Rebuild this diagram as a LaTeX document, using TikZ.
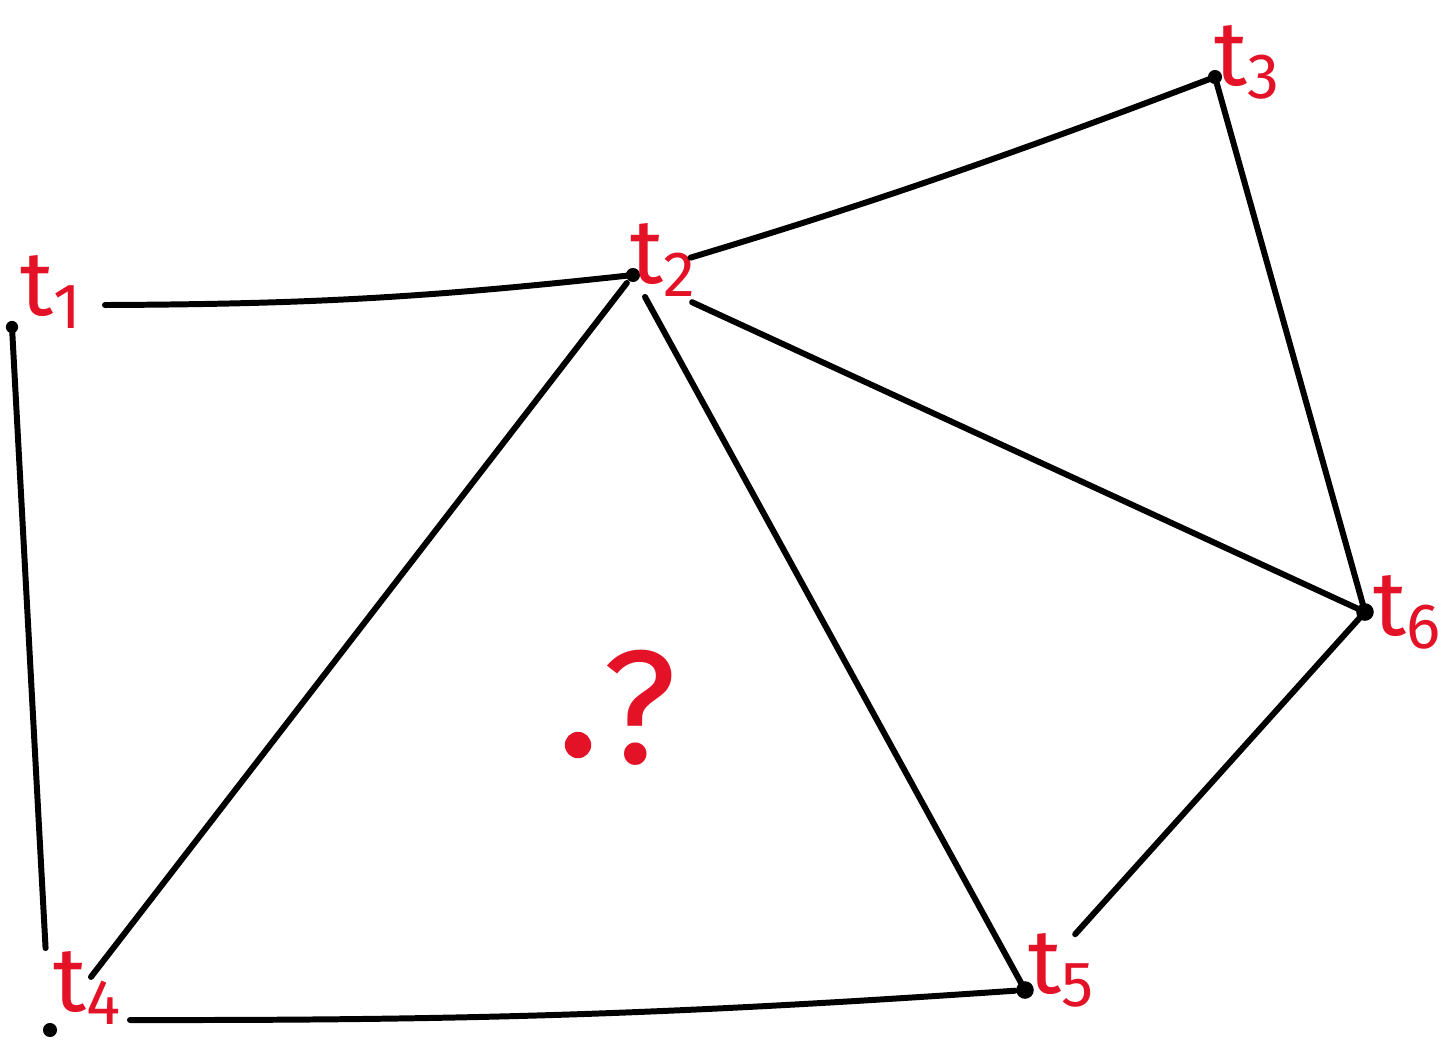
\documentclass[tikz,border=0pt]{standalone}
\usepackage{fontspec}
\setmainfont{Fira Sans}
\definecolor{inkred}{RGB}{228,18,38}
\begin{document}
\begin{tikzpicture}[x=0.01cm,y=-0.01cm,
  edge/.style={line width=1.7pt,line cap=round,black},
  vdot/.style={circle,fill=black,inner sep=0pt,minimum size=#1},
  lab/.style={text=inkred,font=\fontsize{26}{28}\selectfont,inner sep=0pt}]
\useasboundingbox (0,0) rectangle (1441,1041);
% vertices
\node[vdot=3.5pt] (t1) at (12,327) {};
\node[vdot=4pt] (t2) at (633,275) {};
\node[vdot=4pt] (t3) at (1215,77) {};
\node[vdot=4pt] (t4) at (50,1030) {};
\node[vdot=5pt] (t5) at (1025,990) {};
\node[vdot=5pt] (t6) at (1365,612) {};
% labels
\node[lab] (l1) at (52,292) {t\textsubscript{1}};
\node[lab] (l2) at (664,260) {t\textsubscript{2}};
\node[lab] (l3) at (1248,62) {t\textsubscript{3}};
\node[lab] (l4) at (88,988) {t\textsubscript{4}};
\node[lab] (l5) at (1062,970) {t\textsubscript{5}};
\node[lab] (l6) at (1408,612) {t\textsubscript{6}};
% query point
\node[circle,fill=inkred,inner sep=0pt,minimum size=7.5pt] (q) at (578,745) {};
\node[text=inkred,font=\fontsize{46}{48}\selectfont,inner sep=0pt] (qm) at (640,708) {?};
% edges
\coordinate (a1) at (105,305);
\coordinate (a4) at (130,1020);
\draw[edge] (a1) to[bend right=3] (t2.center);
\draw[edge,shorten >=0.82cm] (t1.center) -- (t4.center);
\draw[edge,shorten <=0.6cm] (t2.center) to[bend right=2] (t3.center);
\draw[edge,shorten >=0.67cm,shorten <=0.1cm] (t2.center) -- (t4.center);
\draw[edge,shorten <=0.25cm] (t2.center) -- (t5.center);
\draw[edge,shorten <=0.65cm] (t2.center) -- (t6.center);
\draw[edge] (t3.center) -- (t6.center);
\draw[edge,shorten >=0.75cm] (t6.center) -- (t5.center);
\draw[edge,shorten >=0.1cm] (a4) to[bend right=2] (t5.center);
\end{tikzpicture}
\end{document}
